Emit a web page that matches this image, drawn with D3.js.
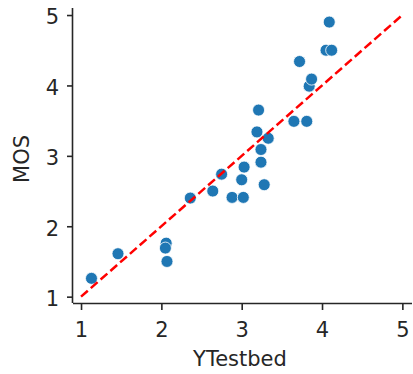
<!DOCTYPE html>
<html>
<head>
<meta charset="utf-8">
<script src="https://cdn.jsdelivr.net/npm/d3@7"></script>
<style>
  body { margin: 0; background: #fff; }
  text { font-family: "DejaVu Sans", sans-serif; fill: #262626; }
</style>
</head>
<body>
<div class="scatter"></div>
<script>
// values
const yTestbed = [1.13, 1.46, 2.06, 2.05, 2.07, 2.36, 2.64, 2.75, 2.88, 3.02, 3.0, 3.03, 3.28,
  3.24, 3.24, 3.33, 3.19, 3.21, 3.65, 3.81, 3.84, 3.87, 3.72, 4.05, 4.12, 4.09];
const mos = [1.26, 1.61, 1.76, 1.69, 1.5, 2.4, 2.5, 2.74, 2.41, 2.41, 2.66, 2.84, 2.59,
  2.91, 3.09, 3.25, 3.34, 3.65, 3.49, 3.49, 3.99, 4.09, 4.34, 4.5, 4.5, 4.9];
const xTicks = [1, 2, 3, 4, 5];
const yTicks = [1, 2, 3, 4, 5];
const identityLine = [1, 5];

const width = 413, height = 374;
const plot = { left: 73, right: 412, top: 8, bottom: 303 };
const fontSize = "21px";

const svg = d3
  .select(".scatter")
  .append("svg")
  .attr("width", width)
  .attr("height", height);

const x = d3.scaleLinear().domain([0.9, 5.12]).range([plot.left, plot.right]);
const y = d3.scaleLinear().domain([0.91, 5.1]).range([plot.bottom, plot.top]);

// axes
const xAxis = svg
  .append("g")
  .attr("transform", `translate(0, ${plot.bottom})`)
  .call(d3.axisBottom(x).tickValues(xTicks).tickSize(7).tickPadding(12).tickFormat(d3.format("d")));

const yAxis = svg
  .append("g")
  .attr("transform", `translate(${plot.left}, 0)`)
  .call(d3.axisLeft(y).tickValues(yTicks).tickSize(6).tickPadding(8).tickFormat(d3.format("d")));

[xAxis, yAxis].forEach((g) => {
  g.select(".domain").attr("stroke", "#262626").attr("stroke-width", 1.6);
  g.selectAll(".tick line").attr("stroke", "#262626").attr("stroke-width", 1.6);
  g.selectAll(".tick text").style("font-size", fontSize).attr("fill", "#262626");
});
yAxis.selectAll(".tick text").attr("dy", "0.42em");
// remove the outer end ticks of the domain path
xAxis.select(".domain").attr("d", `M${plot.left},0.5H${plot.right}`);
yAxis.select(".domain").attr("d", `M-0.5,${plot.top}V${plot.bottom}`);

// points
svg
  .append("g")
  .selectAll("circle")
  .data(yTestbed)
  .enter()
  .append("circle")
  .attr("cx", (d) => x(d))
  .attr("cy", (d, i) => y(mos[i]))
  .attr("r", 6)
  .attr("fill", "#1f77b4")
  .attr("stroke", "#fff")
  .attr("stroke-width", 0.8);

// y = x reference line
svg
  .append("line")
  .attr("x1", x(identityLine[0]))
  .attr("y1", y(identityLine[0]))
  .attr("x2", x(identityLine[1]))
  .attr("y2", y(identityLine[1]))
  .attr("stroke", "#ff0000")
  .attr("stroke-width", 2.5)
  .attr("stroke-dasharray", "9,4");

// axis titles
svg
  .append("text")
  .attr("x", 240)
  .attr("y", 366)
  .attr("text-anchor", "middle")
  .style("font-size", fontSize)
  .text("YTestbed");

svg
  .append("text")
  .attr("transform", "translate(29, 159) rotate(-90)")
  .attr("text-anchor", "middle")
  .style("font-size", fontSize)
  .text("MOS");
</script>
</body>
</html>
